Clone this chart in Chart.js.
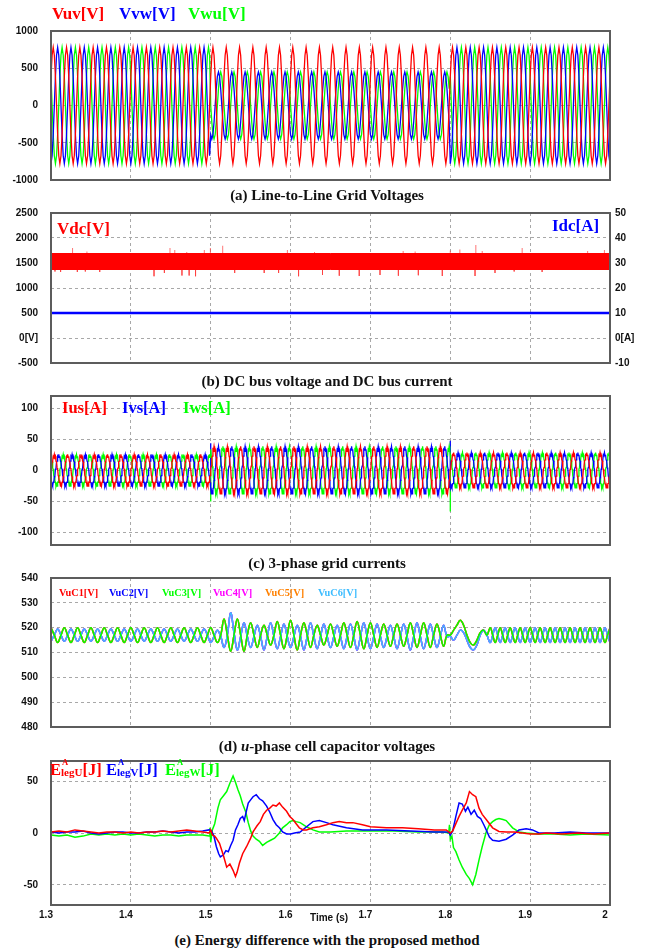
<!DOCTYPE html>
<html><head><meta charset="utf-8">
<script src="https://cdn.jsdelivr.net/npm/chart.js@4.4.1/dist/chart.umd.min.js"></script>
<style>
html,body{margin:0;padding:0;background:#fff;}
#wrap{position:relative;width:654px;height:952px;overflow:hidden;background:#fff;}
canvas{position:absolute;left:0;}
.t{position:absolute;white-space:nowrap;line-height:1;font-family:'Liberation Serif','Times New Roman',serif;font-weight:bold;}
.cap{left:0;width:654px;text-align:center;font-size:15px;color:#111;}
.ss{position:relative;font-size:11px;top:1px;}
.sp{position:absolute;left:1px;top:-8px;font-size:8.5px;}
.tm{position:absolute;font-family:'Liberation Sans',Arial,sans-serif;font-weight:bold;font-size:10px;line-height:1;color:#111;}
</style></head><body><div id="wrap">
<canvas id="ca" width="654" height="169" style="top:21px"></canvas>
<canvas id="cb" width="654" height="170" style="top:203px"></canvas>
<canvas id="cc" width="654" height="169" style="top:386px"></canvas>
<canvas id="cd" width="654" height="169" style="top:568px"></canvas>
<canvas id="ce" width="654" height="179" style="top:751px"></canvas>

<div class="t" style="left:52px;top:5px;font-size:17px;color:#f00">Vuv[V]</div>
<div class="t" style="left:119px;top:5px;font-size:17px;color:#00f">Vvw[V]</div>
<div class="t" style="left:188px;top:5px;font-size:17px;color:#0f0">Vwu[V]</div>
<div class="t cap" style="top:188px">(a) Line-to-Line Grid Voltages</div>

<div class="t" style="left:57px;top:220px;font-size:17px;color:#f00">Vdc[V]</div>
<div class="t" style="left:552px;top:217px;font-size:17px;color:#00f">Idc[A]</div>
<div class="t cap" style="top:374px">(b) DC bus voltage and DC bus current</div>

<div class="t" style="left:62px;top:400px;font-size:16.5px;color:#f00">Ius[A]</div>
<div class="t" style="left:122px;top:400px;font-size:16.5px;color:#00f">Ivs[A]</div>
<div class="t" style="left:183px;top:400px;font-size:16.5px;color:#0f0">Iws[A]</div>
<div class="t cap" style="top:556px">(c) 3-phase grid currents</div>

<div class="t" style="left:59px;top:588px;font-size:10.3px;color:#f00">VuC1[V]</div>
<div class="t" style="left:109px;top:588px;font-size:10.3px;color:#00f">VuC2[V]</div>
<div class="t" style="left:162px;top:588px;font-size:10.3px;color:#0f0">VuC3[V]</div>
<div class="t" style="left:213px;top:588px;font-size:10.3px;color:#f0f">VuC4[V]</div>
<div class="t" style="left:265px;top:588px;font-size:10.3px;color:#ff8000">VuC5[V]</div>
<div class="t" style="left:318px;top:588px;font-size:10.3px;color:#3cbcff">VuC6[V]</div>
<div class="t cap" style="top:739px">(d) <i>u</i>-phase cell capacitor voltages</div>

<div class="t" style="left:50px;top:762px;font-size:16.5px;color:#f00">E<span class="ss"><span class="sp">A</span>legU</span>[J]</div>
<div class="t" style="left:106px;top:762px;font-size:16.5px;color:#00f">E<span class="ss"><span class="sp">A</span>legV</span>[J]</div>
<div class="t" style="left:165px;top:762px;font-size:16.5px;color:#0f0">E<span class="ss"><span class="sp">A</span>legW</span>[J]</div>
<div class="tm" style="left:310px;top:913px">Time (s)</div>
<div class="t cap" style="top:933px">(e) Energy difference with the proposed method</div>
</div>
<script>
// ---------------- data ----------------
const timeTicks = [1.3, 1.4, 1.5, 1.6, 1.7, 1.8, 1.9, 2.0];
const timeLabels = ['1.3', '1.4', '1.5', '1.6', '1.7', '1.8', '1.9', '2'];

// intervals: normal grid / voltage sag / normal grid
const segStart = [1.3, 1.5, 1.8];
const segCycles = [12, 18, 12];      // 60 Hz cycles counted in each interval
const gridFreq = 60;

// (a) one cycle (12 samples) of each line-to-line voltage [V]
const vuvCycle = [390, 675, 780, 675, 390, 0, -390, -675, -780, -675, -390, 0];
const vvwCycleNormal = [-780, -675, -390, 0, 390, 675, 780, 675, 390, 0, -390, -675];
const vwuCycleNormal = [390, 0, -390, -675, -780, -675, -390, 0, 390, 675, 780, 675];
const vvwCycleSag = [-390, -450, -390, -225, 0, 225, 390, 450, 390, 225, 0, -225];
const vwuCycleSag = [0, -225, -390, -450, -390, -225, 0, 225, 390, 450, 390, 225];
const aTicks = [-1000, -500, 0, 500, 1000];
const aLabels = ['-1000', '-500', '0', '500', '1000'];

// (b) DC bus
const vdcTime = [1.3, 2.0];
const vdcUpper = [1690, 1690];
const vdcLower = [1370, 1370];
const vdcSpikeUpT = [1.327, 1.345, 1.449, 1.455, 1.470, 1.492, 1.4996, 1.515, 1.596, 1.630, 1.741, 1.756, 1.800, 1.812, 1.832, 1.840, 1.890, 1.972, 1.993];
const vdcSpikeUpV = [1800, 1730, 1800, 1760, 1720, 1760, 1800, 1845, 1760, 1720, 1740, 1730, 1750, 1770, 1860, 1740, 1800, 1740, 1760];
const vdcSpikeDnT = [1.305, 1.312, 1.333, 1.343, 1.361, 1.429, 1.442, 1.464, 1.473, 1.481, 1.530, 1.567, 1.585, 1.610, 1.640, 1.661, 1.686, 1.712, 1.735, 1.760, 1.790, 1.831, 1.856, 1.880, 1.915];
const vdcSpikeDnV = [1330, 1320, 1320, 1330, 1320, 1235, 1300, 1250, 1250, 1235, 1300, 1300, 1300, 1235, 1260, 1245, 1240, 1260, 1245, 1255, 1240, 1240, 1300, 1330, 1320];
const idcTime = [1.3, 2.0];
const idcValue = [10, 10];
const bLeftTicks = [-500, 0, 500, 1000, 1500, 2000, 2500];
const bLeftLabels = ['-500', '0[V]', '500', '1000', '1500', '2000', '2500'];
const bRightTicks = [-10, 0, 10, 20, 30, 40, 50];
const bRightLabels = ['-10', '0[A]', '10', '20', '30', '40', '50'];

// (c) one cycle (24 samples, with switching ripple) of each grid current per interval [A]
const iusCycle1 = [2, 4.2, 14, 15, 22.8, 21.2, 26, 21.2, 22.8, 15, 14, 4.2, 2, -8.2, -10, -19, -18.8, -25.2, -22, -25.2, -18.8, -19, -10, -8.2];
const ivsCycle1 = [-18.8, -25.2, -22, -25.2, -18.8, -19, -10, -8.2, 2, 4.2, 14, 15, 22.8, 21.2, 26, 21.2, 22.8, 15, 14, 4.2, 2, -8.2, -10, -19];
const iwsCycle1 = [22.8, 15, 14, 4.2, 2, -8.2, -10, -19, -18.8, -25.2, -22, -25.2, -18.8, -19, -10, -8.2, 2, 4.2, 14, 15, 22.8, 21.2, 26, 21.2];
const iusCycle2 = [2.5, 7, 20.8, 23.3, 34.1, 32.8, 39, 32.8, 34.1, 23.3, 20.8, 7, 2.5, -12, -15.8, -28.3, -29.1, -37.8, -34, -37.8, -29.1, -28.3, -15.8, -12];
const ivsCycle2 = [-29.1, -37.8, -34, -37.8, -29.1, -28.3, -15.8, -12, 2.5, 7, 20.8, 23.3, 34.1, 32.8, 39, 32.8, 34.1, 23.3, 20.8, 7, 2.5, -12, -15.8, -28.3];
const iwsCycle2 = [34.1, 23.3, 20.8, 7, 2.5, -12, -15.8, -28.3, -29.1, -37.8, -34, -37.8, -29.1, -28.3, -15.8, -12, 2.5, 7, 20.8, 23.3, 34.1, 32.8, 39, 32.8];
const iusCycle3 = [2, 5, 15.5, 17.1, 25.4, 24.1, 29, 24.1, 25.4, 17.1, 15.5, 5, 2, -9, -11.5, -21.1, -21.4, -28.1, -25, -28.1, -21.4, -21.1, -11.5, -9];
const ivsCycle3 = [-21.4, -28.1, -25, -28.1, -21.4, -21.1, -11.5, -9, 2, 5, 15.5, 17.1, 25.4, 24.1, 29, 24.1, 25.4, 17.1, 15.5, 5, 2, -9, -11.5, -21.1];
const iwsCycle3 = [25.4, 17.1, 15.5, 5, 2, -9, -11.5, -21.1, -21.4, -28.1, -25, -28.1, -21.4, -21.1, -11.5, -9, 2, 5, 15.5, 17.1, 25.4, 24.1, 29, 24.1];
const ivsSpikeT = [1.5, 1.8];
const ivsSpikeV = [44, 48];
const iwsSpikeT = [1.5, 1.8];
const iwsSpikeV = [-50, -66];
const cTicks = [-100, -50, 0, 50, 100];

// (d) u-phase cell capacitor voltages [V]  (C1,C3,C5 overlap = green group; C2,C4,C6 overlap = cyan group)
const ucSeg1Green = [520, 517, 514, 517];     // one 60 Hz cycle, 1.3-1.5 s
const ucSeg1Cyan = [514.5, 517, 519.5, 517];
const ucSeg2Green = [520,517,514,517, 523.5,517,510.5,517, 523.5,517,510.5,517, 522,517,512,517,
  521,517,513,517, 522.5,517,511.5,517, 523,517,511,517, 522,517,512,517, 521,517,513,517,
  521.5,517,512.5,517, 522,517,512,517, 522.5,517,511.5,517, 522,517,512,517, 521.5,517,512.5,517,
  521.5,517,512.5,517, 522,517,512,517, 522,517,512,517, 521.5,517,512.5,517];
const ucSeg2Cyan = [514,516.5,519,516.5, 512,517,526,518, 511,516.5,522,516.5, 512,516.5,521,516.5,
  511,516.5,522,516.5, 511.5,516.5,521.5,516.5, 512,516.5,521,516.5, 511,516.5,522,516.5, 511.5,516.5,521.5,516.5,
  512,516.5,521,516.5, 511.5,516.5,521.5,516.5, 511,516.5,522,516.5, 511.5,516.5,521.5,516.5, 512,516.5,521,516.5,
  511.5,516.5,521.5,516.5, 511,516.5,522,516.5, 511.5,516.5,521.5,516.5, 512,516.5,521,516.5];
const ucStepGreen = [517, 519, 521, 523, 521, 517, 514, 513, 515, 518, 519, 517];   // 1.80-1.85 s
const ucStepCyan = [516.5, 515, 517, 519, 518, 515, 512, 511, 513, 517, 519, 517];
const ucSeg3Green = [520, 517, 514, 517];     // one cycle, 1.85-2.0 s
const ucSeg3Cyan = [514, 517, 520, 517];
const ucSeg3Cycles = 12;
const dTicks = [480, 490, 500, 510, 520, 530, 540];

// (e) leg energy differences [J]
const eUTime = [1.30,1.31,1.32,1.33,1.34,1.35,1.36,1.37,1.38,1.39,1.40,1.41,1.42,1.43,1.44,1.45,1.46,1.47,1.48,1.49,
  1.498,1.500,1.502,1.505,1.507,1.511,1.516,1.520,1.524,1.528,
  1.531,1.533,1.536,1.540,1.545,1.550,1.553,1.558,1.562,1.566,
  1.570,1.574,1.578,1.582,1.586,1.590,1.595,1.599,1.603,1.607,
  1.611,1.616,1.620,1.628,1.636,1.645,1.653,1.661,1.670,1.678,
  1.690,1.700,1.720,1.740,1.760,1.780,1.795,1.800,1.803,1.807,
  1.811,1.815,1.820,1.824,1.828,1.832,1.836,1.840,1.845,1.853,
  1.861,1.870,1.880,1.890,1.900,1.911,1.920,1.940,1.960,1.980,2.000];
const eUValue = [1,2,1,3,2,1,0,1,1,0,1,0,1,1,2,1,2,3,2,1,
  0,3,-2,-3,-5,-10,-22,-33,-30,-36,
  -42,-38,-29,-20,-13,-5,1,7,11,18,
  22,24,27,26,29,25,21,16,13,9,
  5,3,3,5,6,8,10,11,10,10,
  8,6,5,5,4,3,3,0,2,9,
  16,22,29,40,37,35,24,18,13,5,
  1.5,1,1,0,-1,-1,0,-1,0,-1,0];
const eVTime = [1.30,1.31,1.32,1.33,1.34,1.35,1.36,1.37,1.38,1.39,1.40,1.41,1.42,1.43,1.44,1.45,1.46,1.47,1.48,1.49,
  1.498,1.501,1.504,1.507,1.510,1.512,1.516,1.519,1.522,1.525,
  1.528,1.531,1.534,1.537,1.540,1.542,1.544,1.547,1.550,1.553,
  1.557,1.561,1.565,1.570,1.574,1.578,1.582,1.586,1.590,1.595,
  1.600,1.605,1.612,1.620,1.628,1.636,1.645,1.653,1.670,1.690,
  1.720,1.750,1.780,1.798,1.800,1.803,1.807,1.811,1.815,1.819,
  1.822,1.826,1.830,1.834,1.838,1.842,1.845,1.849,1.853,1.861,
  1.870,1.878,1.886,1.895,1.903,1.911,1.930,1.950,1.970,2.000];
const eVValue = [1,0,1,1,2,0,-1,0,1,1,0,0,1,1,2,1,0,1,1,2,
  3,2,-3,-13,-20,-23,-21,-17,-18,-12,
  -7,3,8,14,16,12,19,29,32,35,
  37,33,31,26,20,13,8,5,1,-1,
  -1,0,1,6,11,12,10,8,5,3,
  3,2,1,1,-2,2,16,29,28,21,
  25,18,22,16,14,8,3,-4,-7,-8,
  -6,-2,3,4,3,0,0,1,0,0];
const eWTime = [1.30,1.31,1.32,1.33,1.34,1.35,1.36,1.37,1.38,1.39,1.40,1.41,1.42,1.43,1.44,1.45,1.46,1.47,1.48,1.49,
  1.498,1.499,1.500,1.502,1.505,1.509,1.512,1.516,1.520,1.524,
  1.528,1.531,1.534,1.537,1.540,1.544,1.547,1.550,1.553,1.557,
  1.561,1.565,1.570,1.575,1.580,1.586,1.590,1.595,1.599,1.603,
  1.607,1.612,1.620,1.628,1.636,1.650,1.670,1.700,1.730,1.760,
  1.790,1.798,1.799,1.800,1.802,1.804,1.807,1.811,1.815,1.820,
  1.824,1.828,1.832,1.836,1.840,1.845,1.849,1.853,1.857,1.861,
  1.866,1.870,1.878,1.886,1.895,1.910,1.930,1.950,1.970,2.000];
const eWValue = [-2,-3,-2,-4,-3,-1,-2,-1,-2,-1,-2,-1,-2,-3,-2,-2,-3,-2,-2,-2,
  -3,5,-9,3,9,24,32,36,40,48,
  55,49,42,36,28,20,10,2,-3,-6,
  -8,-12,-9,-7,-5,0,5,8,11,12,
  11,10,6,3,1,1,2,2,2,1,
  1,0,8,-6,-3,-14,-18,-26,-33,-40,
  -44,-50,-40,-26,-13,1,8,11,13,14,
  13,12,5,1,0,-1,-1,-2,-1,-2];
const eTicks = [-50, 0, 50];

// ---------------- helpers ----------------
const SANS = "'Liberation Sans', Arial, Helvetica, sans-serif";
const RED = '#ff0000', BLUE = '#0000ff', GREEN = '#00ff00', CYAN = '#3cbcff', MAG = '#ff00ff', ORANGE = '#ff8000';

function tile(cycle, count, t0, dt) {
  const out = [];
  for (let c = 0; c < count; c++)
    for (let i = 0; i < cycle.length; i++)
      out.push({x: t0 + (c * cycle.length + i) * dt, y: cycle[i]});
  return out;
}
function seq(values, t0, dt) { return values.map((v, i) => ({x: t0 + i * dt, y: v})); }
function pairs(ts, vs) { return ts.map((t, i) => ({x: t, y: vs[i]})); }
function threeSeg(cycles, samplesPerCycle) {
  const dt = 1 / (gridFreq * samplesPerCycle);
  const pts = [];
  cycles.forEach((cyc, s) => pts.push(...tile(cyc, segCycles[s], segStart[s], dt)));
  pts.push({x: 2.0, y: cycles[2][0]});
  return pts;
}
function spikes(ts, vs, base) {
  const out = [];
  ts.forEach((t, i) => { out.push({x: t, y: base}, {x: t, y: vs[i]}, {x: t, y: null}); });
  return out;
}
function line(data, color, extra) {
  return Object.assign({data, borderColor: color, backgroundColor: color, borderWidth: 1.3,
    pointRadius: 0, tension: 0, fill: false, spanGaps: false}, extra || {});
}

const framePlugin = {
  id: 'frame',
  afterDraw(chart) {
    const {ctx, chartArea: a} = chart;
    ctx.save();
    ctx.strokeStyle = '#5c5c5c';
    ctx.lineWidth = 2;
    ctx.strokeRect(a.left, a.top, a.right - a.left, a.bottom - a.top);
    ctx.restore();
  }
};

function xAxis(showLabels) {
  return {
    type: 'linear', min: 1.3, max: 2.0,
    afterBuildTicks: s => { s.ticks = timeTicks.map(v => ({value: v})); },
    afterFit: s => { s.height = showLabels ? 25 : 0; s.paddingLeft = 0; s.paddingRight = 0; },
    grid: {color: '#a8a8a8', lineWidth: 1, drawTicks: false},
    border: {display: false, dash: [3, 3]},
    ticks: {display: showLabels, padding: 4, labelOffset: -5, color: '#111', maxRotation: 0, autoSkip: false,
      font: {family: SANS, weight: 'bold', size: 10},
      callback: v => timeLabels[timeTicks.indexOf(v)]}
  };
}
function yAxis(min, max, ticks, labels, position, showGrid) {
  const left = position === 'left';
  return {
    type: 'linear', position, min, max,
    afterBuildTicks: s => { s.ticks = ticks.map(v => ({value: v})); },
    afterFit: s => { s.width = left ? 51 : 44; s.paddingTop = 0; s.paddingBottom = 0; },
    grid: {display: showGrid, color: '#a8a8a8', lineWidth: 1, drawTicks: false},
    border: {display: false, dash: [3, 3]},
    ticks: {padding: left ? 13 : 5, color: '#111', autoSkip: false,
      font: {family: SANS, weight: 'bold', size: 10},
      callback: v => labels[ticks.indexOf(v)]}
  };
}
function make(id, datasets, scales, padding) {
  return new Chart(document.getElementById(id), {
    type: 'line',
    data: {datasets},
    options: {
      responsive: false, animation: false, events: [], normalized: true,
      layout: {padding},
      plugins: {legend: {display: false}, tooltip: {enabled: false}},
      scales
    },
    plugins: [framePlugin]
  });
}
const strTicks = a => a.map(String);

// (a)
make('ca', [
  line(threeSeg([vuvCycle, vuvCycle, vuvCycle], 12), RED),
  line(threeSeg([vvwCycleNormal, vvwCycleSag, vvwCycleNormal], 12), BLUE),
  line(threeSeg([vwuCycleNormal, vwuCycleSag, vwuCycleNormal], 12), GREEN)
], {x: xAxis(false), y: yAxis(-1000, 1000, aTicks, aLabels, 'left', true)},
  {top: 10, bottom: 10, left: 0, right: 44});

// (b)
make('cb', [
  line(pairs(vdcTime, vdcUpper), RED, {fill: '+1', borderWidth: 1}),
  line(pairs(vdcTime, vdcLower), RED, {borderWidth: 1}),
  line(spikes(vdcSpikeUpT, vdcSpikeUpV, 1690), 'rgba(255,60,60,0.7)', {borderWidth: 1}),
  line(spikes(vdcSpikeDnT, vdcSpikeDnV, 1370), 'rgba(255,60,60,0.7)', {borderWidth: 1}),
  line(pairs(idcTime, idcValue), BLUE, {borderWidth: 2.5, yAxisID: 'y1'})
], {x: xAxis(false),
    y: yAxis(-500, 2500, bLeftTicks, bLeftLabels, 'left', true),
    y1: yAxis(-10, 50, bRightTicks, bRightLabels, 'right', false)},
  {top: 10, bottom: 10, left: 0, right: 0});

// (c)
make('cc', [
  line(threeSeg([iusCycle1, iusCycle2, iusCycle3], 24), RED),
  line(threeSeg([ivsCycle1, ivsCycle2, ivsCycle3], 24), BLUE),
  line(threeSeg([iwsCycle1, iwsCycle2, iwsCycle3], 24), GREEN),
  line(spikes(ivsSpikeT, ivsSpikeV, 0), BLUE),
  line(spikes(iwsSpikeT, iwsSpikeV, 0), GREEN)
], {x: xAxis(false), y: yAxis(-120, 120, cTicks, strTicks(cTicks), 'left', true)},
  {top: 10, bottom: 10, left: 0, right: 44});

// (d)
function ucSeries(seg1, seg2, step, seg3) {
  return [...tile(seg1, segCycles[0], segStart[0], 1 / 240),
    ...seq(seg2, segStart[1], 1 / 240),
    ...seq(step, segStart[2], 1 / 240),
    ...tile(seg3, ucSeg3Cycles, 1.85, 1 / 320),
    {x: 2.0, y: seg3[0]}];
}
const greenGroup = ucSeries(ucSeg1Green, ucSeg2Green, ucStepGreen, ucSeg3Green);
const cyanGroup = ucSeries(ucSeg1Cyan, ucSeg2Cyan, ucStepCyan, ucSeg3Cyan);
make('cd', [
  line(greenGroup, GREEN, {tension: 0.4, borderWidth: 1.5, order: 0}),
  line(cyanGroup, CYAN, {tension: 0.4, borderWidth: 1.5, order: 0}),
  line(greenGroup, RED, {tension: 0.4, borderWidth: 1.5, order: 2}),
  line(cyanGroup, BLUE, {tension: 0.4, borderWidth: 1.5, order: 2}),
  line(cyanGroup, MAG, {tension: 0.4, borderWidth: 1.5, order: 1}),
  line(greenGroup, ORANGE, {tension: 0.4, borderWidth: 1.5, order: 1})
], {x: xAxis(false), y: yAxis(480, 540, dTicks, strTicks(dTicks), 'left', true)},
  {top: 10, bottom: 10, left: 0, right: 44});

// (e)
make('ce', [
  line(pairs(eUTime, eUValue), RED, {borderWidth: 1.5}),
  line(pairs(eVTime, eVValue), BLUE, {borderWidth: 1.5}),
  line(pairs(eWTime, eWValue), GREEN, {borderWidth: 1.5})
], {x: xAxis(true), y: yAxis(-69.5, 69.5, eTicks, strTicks(eTicks), 'left', true)},
  {top: 10, bottom: 0, left: 0, right: 44});
</script>
</body></html>
